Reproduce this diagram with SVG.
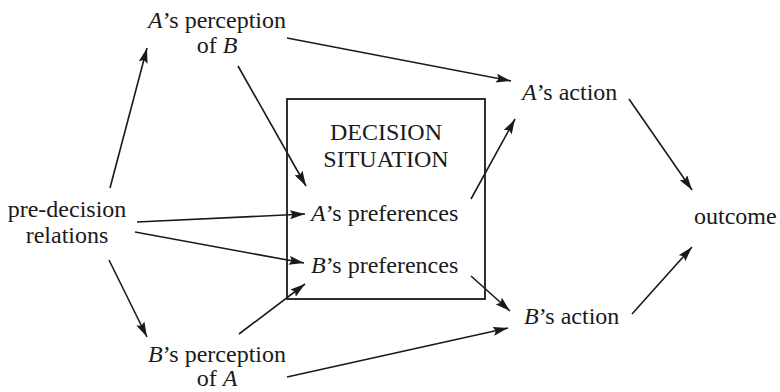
<svg xmlns="http://www.w3.org/2000/svg" width="780" height="392" viewBox="0 0 780 392">
  <style>
    .t { font-family: "Liberation Serif", "Times New Roman", serif; font-size: 24px; fill: #1a1a1a; }
    .m { text-anchor: middle; }
    .i { font-style: italic; }
    .c { stroke: #1a1a1a; stroke-width: 1.6; fill: none; marker-end: url(#ah); }
    .box { stroke: #1a1a1a; stroke-width: 1.8; fill: #ffffff; }
  </style>
  <defs>
    <marker id="ah" markerUnits="userSpaceOnUse" markerWidth="16" markerHeight="10" refX="15" refY="4.5" orient="auto">
      <path d="M0,0 L15,4.5 L0,9 L2.5,4.5 Z" fill="#1a1a1a"/>
    </marker>
  </defs>
  <rect width="780" height="392" fill="#ffffff"/>

  <!-- central decision box -->
  <g id="decision-situation">
    <rect class="box" x="287" y="99" width="198" height="200"/>
    <text class="t m" x="386" y="140">DECISION</text>
    <text class="t m" x="386" y="167">SITUATION</text>
  </g>

  <g id="a-perception">
    <text class="t m" x="217" y="28"><tspan class="i">A</tspan>’s perception</text>
    <text class="t m" x="217" y="53">of <tspan class="i">B</tspan></text>
  </g>

  <g id="b-perception">
    <text class="t m" x="217" y="362"><tspan class="i">B</tspan>’s perception</text>
    <text class="t m" x="217" y="386">of <tspan class="i">A</tspan></text>
  </g>

  <g id="pre-decision">
    <text class="t m" x="67" y="217">pre-decision</text>
    <text class="t m" x="67" y="243">relations</text>
  </g>

  <g id="a-preferences">
    <text class="t" x="311" y="221"><tspan class="i">A</tspan>’s preferences</text>
  </g>

  <g id="b-preferences">
    <text class="t" x="311" y="273"><tspan class="i">B</tspan>’s preferences</text>
  </g>

  <g id="a-action">
    <text class="t" x="522" y="100"><tspan class="i">A</tspan>’s action</text>
  </g>

  <g id="b-action">
    <text class="t" x="524" y="324"><tspan class="i">B</tspan>’s action</text>
  </g>

  <g id="outcome">
    <text class="t" x="694" y="224">outcome</text>
  </g>

  <!-- connectors -->
  <g id="connectors">
    <line class="c" x1="110" y1="188" x2="147" y2="48"/>
    <line class="c" x1="238" y1="66" x2="306" y2="186"/>
    <line class="c" x1="287" y1="38" x2="511" y2="81"/>
    <line class="c" x1="471" y1="199" x2="515" y2="119"/>
    <line class="c" x1="629" y1="99" x2="692" y2="190"/>
    <line class="c" x1="137" y1="222" x2="305" y2="214"/>
    <line class="c" x1="135" y1="232" x2="304" y2="263"/>
    <line class="c" x1="109" y1="260" x2="147" y2="337"/>
    <line class="c" x1="239" y1="334" x2="305" y2="284"/>
    <line class="c" x1="287" y1="377" x2="508" y2="328"/>
    <line class="c" x1="471" y1="276" x2="510" y2="311"/>
    <line class="c" x1="632" y1="314" x2="692" y2="247"/>
  </g>
</svg>
